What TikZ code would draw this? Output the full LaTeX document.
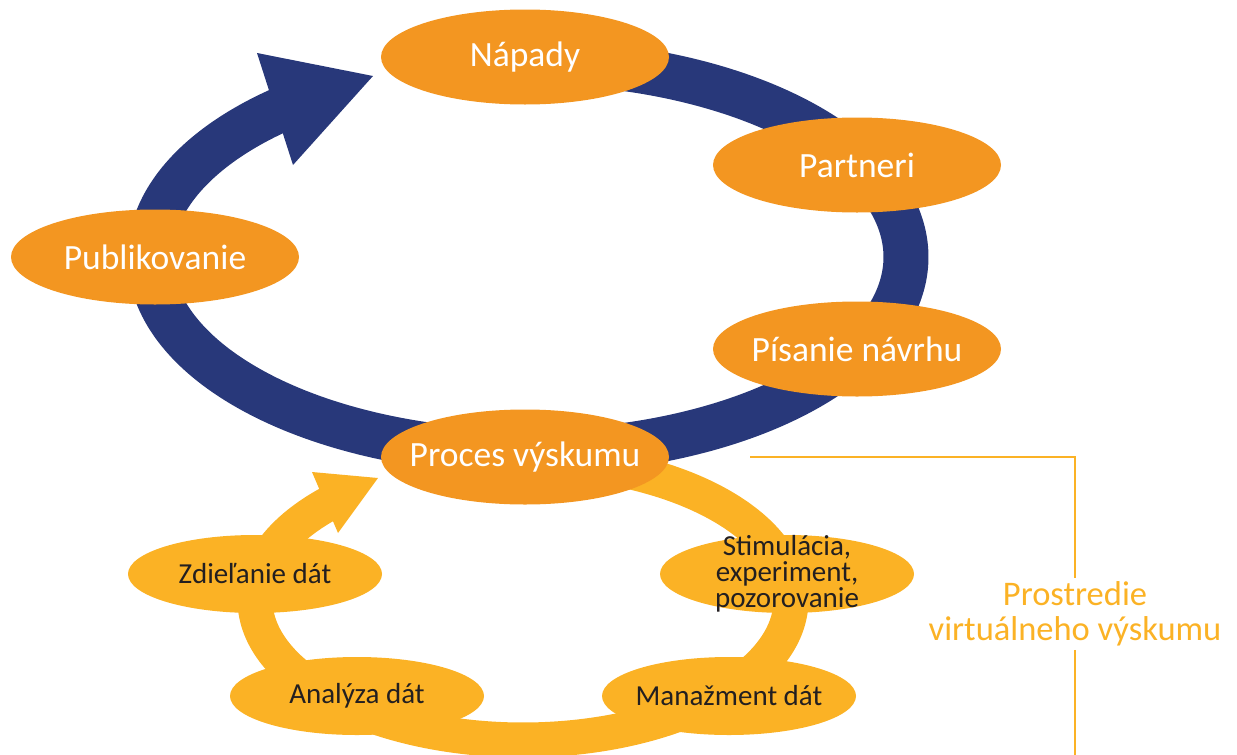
\documentclass[tikz,border=0pt]{standalone}
\usepackage{fontspec}
\setmainfont{Carlito}
\usetikzlibrary{shapes.geometric}
\definecolor{ringblue}{HTML}{28387A}
\definecolor{nodeorange}{HTML}{F39621}
\definecolor{ringyellow}{HTML}{FBB225}
\definecolor{darktext}{HTML}{231F20}
\tikzset{
  bignode/.style={ellipse, fill=nodeorange, inner xsep=-60pt, inner ysep=-10pt, minimum width=288pt, minimum height=95pt, text=white, font=\fontsize{35.5}{38}\selectfont},
  smallnode/.style={ellipse, fill=ringyellow, inner xsep=-50pt, inner ysep=-30pt, minimum width=254pt, minimum height=78pt, text=darktext, font=\fontsize{29}{26}\selectfont, align=center},
  bluering/.style={line width=45pt, draw=ringblue},
  yellowring/.style={line width=35pt, draw=ringyellow},
  bracket/.style={draw=ringyellow, line width=1.6pt}
}
\begin{document}
\begin{tikzpicture}[x=1pt,y=-1pt]
\useasboundingbox (0,0) rectangle (1237,755);
% yellow ring
\draw[yellowring] plot[domain=-85:224, samples=200, smooth] ({523+268*cos(\x)},{600+140*sin(\x)});
\fill[ringyellow] (312,472) -- (378,478) -- (338,533) -- cycle;
% blue ring
\draw[bluering] plot[domain=-95:229, samples=200, smooth] ({528+378*cos(\x)},{257+195*sin(\x)});
\fill[ringblue] (257,53) -- (373,76) -- (293,165) -- cycle;
% nodes
\node[bignode] (napady) at (525,57) {Nápady};
\node[bignode] (partneri) at (857,165) {Partneri};
\node[bignode] (pisanie) at (857,349) {Písanie návrhu};
\node[bignode] (publ) at (155,257) {Publikovanie};
\node[bignode] (proces) at (525,457) {Proces výskumu};
\node[smallnode] (zdiel) at (255,574) {Zdieľanie dát};
\node[smallnode] (stim) at (787,574) {Stimulácia,\\experiment,\\pozorovanie};
\node[smallnode] (analyza) at (357,696) {Analýza dát};
\node[smallnode] (manaz) at (729,696) {Manažment dát};
% label and bracket
\node[text=ringyellow, font=\fontsize{34.5}{35}\selectfont, align=center] (prostr) at (1075,614) {Prostredie\\virtuálneho výskumu};
\coordinate (bstart) at (750,457);
\coordinate (bcorner) at (1075,457);
\coordinate (bend) at (1075,755);
\draw[bracket] (bstart) -- (bcorner) -- (prostr.north -| bcorner);
\draw[bracket] (prostr.south -| bcorner) -- (bend);
\end{tikzpicture}
\end{document}
